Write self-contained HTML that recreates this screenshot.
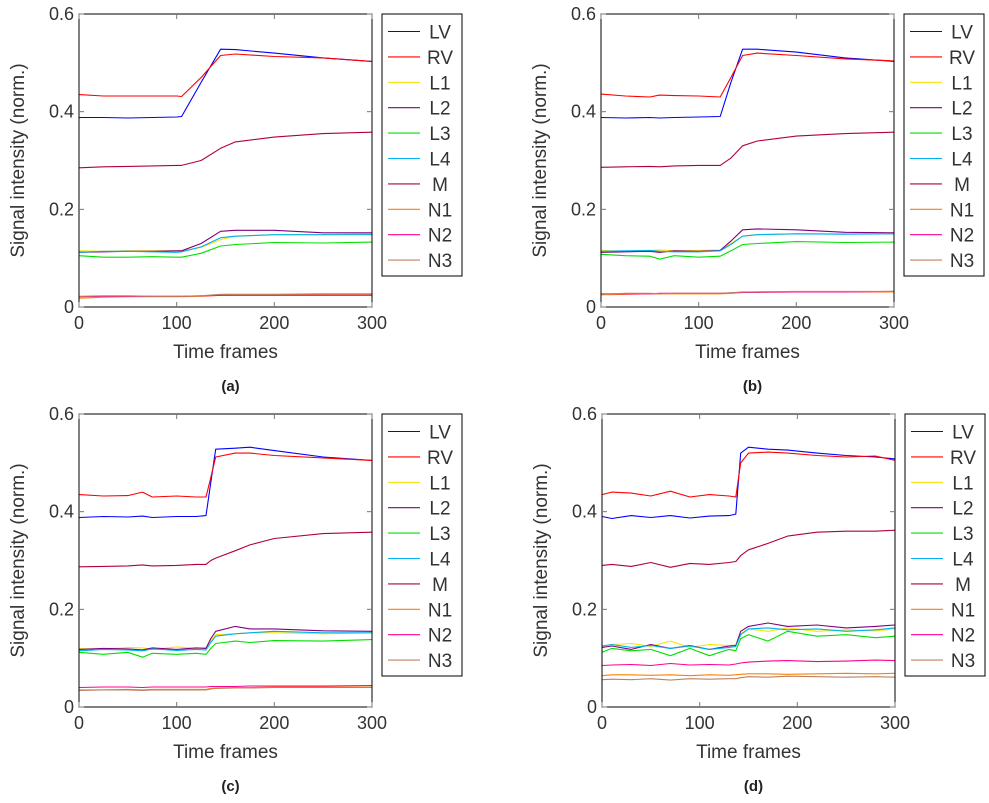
<!DOCTYPE html>
<html><head><meta charset="utf-8"><style>
html,body{margin:0;padding:0;background:#fff;}
svg{display:block;font-family:"Liberation Sans","DejaVu Sans",sans-serif;}
</style></head><body>
<svg id="fig" width="989" height="803" viewBox="0 0 989 803" xmlns="http://www.w3.org/2000/svg"></svg>
<script>
const seriesNames = ["LV","RV","L1","L2","L3","L4","M","N1","N2","N3"];
const seriesColors = ["#0000ff","#ff0000","#f5e600","#800080","#00e000","#00b0f0","#b00040","#ff8000","#ff0090","#c08060"];
const yTicks = [0,0.2,0.4,0.6];
const xTicks = [0,100,200,300];

const framesA = [0,25,50,75,100,105,125,145,160,200,250,300];
const aLV = [.388,.388,.387,.388,.389,.390,.460,.528,.527,.520,.510,.503];
const aRV = [.435,.432,.432,.432,.432,.431,.470,.515,.518,.513,.510,.503];
const aL1 = [.115,.114,.115,.115,.115,.115,.122,.138,.145,.148,.148,.150];
const aL2 = [.112,.113,.114,.114,.115,.115,.130,.155,.157,.157,.152,.152];
const aL3 = [.105,.102,.102,.103,.102,.102,.110,.125,.128,.132,.131,.133];
const aL4 = [.112,.114,.114,.113,.112,.113,.123,.142,.145,.148,.148,.148];
const aM  = [.285,.287,.288,.289,.290,.290,.300,.325,.338,.348,.355,.358];
const aN1 = [.018,.020,.021,.021,.021,.021,.022,.024,.025,.025,.026,.026];
const aN2 = [.021,.022,.022,.022,.022,.022,.023,.024,.024,.024,.024,.024];
const aN3 = [.022,.023,.023,.022,.022,.022,.023,.026,.026,.026,.027,.027];

const framesB = [0,25,50,60,75,100,122,133,145,160,200,250,300];
const bLV = [.388,.387,.388,.387,.388,.389,.390,.460,.528,.528,.522,.510,.503];
const bRV = [.436,.432,.430,.434,.433,.432,.430,.470,.515,.520,.515,.508,.504];
const bL1 = [.116,.114,.116,.117,.115,.116,.117,.130,.145,.148,.150,.150,.150];
const bL2 = [.112,.113,.114,.112,.115,.114,.116,.135,.158,.160,.158,.153,.152];
const bL3 = [.108,.105,.104,.098,.105,.102,.104,.115,.128,.130,.134,.132,.133];
const bL4 = [.114,.115,.116,.114,.113,.113,.115,.128,.145,.148,.150,.149,.150];
const bM  = [.286,.287,.288,.287,.289,.290,.290,.305,.330,.340,.350,.355,.358];
const bN1 = [.025,.026,.027,.027,.027,.027,.027,.028,.030,.031,.031,.031,.031];
const bN2 = [.027,.027,.027,.028,.028,.028,.028,.029,.030,.030,.031,.031,.032];
const bN3 = [.026,.028,.028,.027,.028,.028,.028,.029,.031,.031,.032,.032,.032];

const framesC = [0,25,50,65,75,100,120,130,135,140,160,175,200,250,300];
const cLV = [.388,.390,.389,.391,.388,.390,.390,.392,.460,.528,.530,.532,.525,.512,.505];
const cRV = [.435,.432,.433,.440,.430,.432,.430,.430,.470,.512,.520,.520,.515,.510,.505];
const cL1 = [.120,.118,.122,.121,.118,.123,.120,.122,.135,.148,.150,.152,.152,.150,.152];
const cL2 = [.118,.120,.119,.117,.121,.118,.121,.120,.140,.155,.165,.160,.160,.156,.155];
const cL3 = [.112,.108,.112,.102,.110,.108,.110,.108,.120,.130,.135,.132,.136,.135,.138];
const cL4 = [.115,.118,.117,.115,.119,.116,.118,.117,.132,.145,.150,.152,.155,.152,.152];
const cM  = [.287,.288,.289,.291,.289,.290,.292,.292,.300,.305,.320,.332,.345,.355,.358];
const cN1 = [.035,.035,.036,.035,.036,.036,.036,.036,.038,.039,.040,.040,.041,.041,.041];
const cN2 = [.040,.041,.041,.040,.041,.041,.041,.041,.042,.042,.042,.043,.043,.043,.044];
const cN3 = [.034,.035,.035,.034,.035,.035,.035,.035,.037,.038,.039,.039,.040,.040,.040];

const framesD = [0,10,30,50,70,90,110,130,137,142,150,170,190,220,250,280,300];
const dLV = [.390,.386,.392,.388,.392,.387,.391,.392,.395,.520,.532,.528,.526,.520,.515,.512,.508];
const dRV = [.435,.440,.438,.432,.442,.430,.435,.432,.430,.500,.520,.522,.520,.515,.512,.514,.505];
const dL1 = [.125,.128,.130,.124,.135,.122,.128,.126,.127,.150,.160,.155,.162,.155,.158,.156,.160];
const dL2 = [.122,.125,.118,.128,.120,.126,.118,.125,.126,.155,.165,.172,.165,.168,.162,.165,.168];
const dL3 = [.112,.120,.115,.118,.105,.120,.105,.118,.115,.140,.148,.135,.155,.145,.148,.142,.145];
const dL4 = [.125,.128,.122,.126,.120,.125,.118,.122,.124,.148,.160,.162,.158,.160,.155,.158,.162];
const dM  = [.290,.292,.288,.296,.286,.294,.292,.296,.298,.310,.322,.335,.350,.358,.360,.360,.362];
const dN1 = [.064,.066,.066,.065,.066,.064,.066,.065,.066,.067,.068,.068,.067,.068,.069,.068,.069];
const dN2 = [.085,.086,.087,.085,.089,.086,.087,.086,.088,.090,.092,.094,.095,.093,.094,.096,.095];
const dN3 = [.056,.057,.056,.058,.055,.058,.057,.058,.058,.060,.062,.061,.063,.062,.061,.062,.061];

const panels = [
 {id:"a", ox:79, oy:14, frames:framesA, data:[aLV,aRV,aL1,aL2,aL3,aL4,aM,aN1,aN2,aN3]},
 {id:"b", ox:601, oy:14, frames:framesB, data:[bLV,bRV,bL1,bL2,bL3,bL4,bM,bN1,bN2,bN3]},
 {id:"c", ox:79, oy:414, frames:framesC, data:[cLV,cRV,cL1,cL2,cL3,cL4,cM,cN1,cN2,cN3]},
 {id:"d", ox:602, oy:414, frames:framesD, data:[dLV,dRV,dL1,dL2,dL3,dL4,dM,dN1,dN2,dN3]}
];
const NS="http://www.w3.org/2000/svg";
const svg=document.getElementById("fig");
const W=293,H=293;
function mk(tag,attrs,parent){const e=document.createElementNS(NS,tag);for(const k in attrs)e.setAttribute(k,attrs[k]);parent.appendChild(e);return e;}
panels.forEach(p=>{
  const g=mk("g",{},svg);
  
  
  const xs=v=>p.ox+v/300*W, ys=v=>p.oy+H-v/0.6*H;
  p.data.forEach((arr,si)=>{
    const pts=arr.map((v,i)=>xs(p.frames[i]).toFixed(1)+","+ys(v).toFixed(1)).join(" ");
    const pl=mk("polyline",{points:pts,fill:"none",stroke:seriesColors[si],"stroke-width":1.1,"stroke-linejoin":"round"},g);
    
    
  });
  const fr=mk("rect",{x:p.ox,y:p.oy,width:W,height:H,fill:"none",stroke:"#000","stroke-width":1},g);
  
  
  yTicks.forEach(t=>{
    const y=ys(t);
    mk("line",{x1:p.ox,x2:p.ox+5,y1:y,y2:y,stroke:"#777"},g);
    mk("line",{x1:p.ox+W-5,x2:p.ox+W,y1:y,y2:y,stroke:"#777"},g);
    const tx=mk("text",{x:p.ox-5,y:y+6,"text-anchor":"end","font-size":18,fill:"#333"},g);
    tx.textContent=String(t);
    
    
  });
  xTicks.forEach(t=>{
    const x=xs(t);
    mk("line",{x1:x,x2:x,y1:p.oy+H,y2:p.oy+H-5,stroke:"#777"},g);
    mk("line",{x1:x,x2:x,y1:p.oy,y2:p.oy+5,stroke:"#777"},g);
    const tx=mk("text",{x:x,y:p.oy+H+22,"text-anchor":"middle","font-size":18,fill:"#333"},g);
    tx.textContent=String(t);
    
    
  });
  const xl=mk("text",{x:p.ox+W/2,y:p.oy+H+51,"text-anchor":"middle","font-size":19,fill:"#333"},g);
  xl.textContent="Time frames";
  
  
  const yl=mk("text",{x:0,y:0,"text-anchor":"middle","font-size":19,fill:"#333",transform:`translate(${p.ox-55},${p.oy+H/2}) rotate(-90)`},g);
  yl.textContent="Signal intensity (norm.)";
  
  
  const cap=mk("text",{x:p.ox+W/2+5,y:p.oy+H+84,"text-anchor":"middle","font-size":15,"font-weight":"bold",fill:"#222"},g);
  cap.textContent="("+p.id+")";
  
  
  const lx=p.ox+W+10, ly=p.oy;
  const lg=mk("g",{},g);
  
  
  mk("rect",{x:lx,y:ly,width:80,height:262,fill:"#fff",stroke:"#000","stroke-width":1},lg);
  seriesNames.forEach((n,i)=>{
    const y=ly+17.5+i*25.4;
    const e=mk("g",{},lg);
    
    
    mk("line",{x1:lx+6,x2:lx+38,y1:y,y2:y,stroke:seriesColors[i],"stroke-width":1.1},e);
    const t=mk("text",{x:lx+58,y:y+7,"text-anchor":"middle","font-size":19,fill:"#333"},e);
    t.textContent=n;
  });
});
</script>
</body></html>
